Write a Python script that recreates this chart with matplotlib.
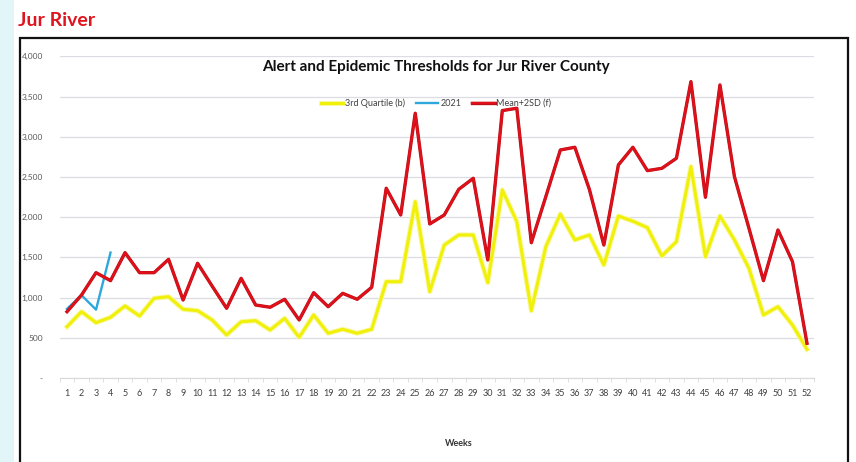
import matplotlib.pyplot as plt
import matplotlib.patheffects as pe
from matplotlib.patches import Rectangle
import numpy as np

# Dados (semanas 1 a 52)
weeks = list(range(1, 53))
q3_values = [638, 825, 688, 755, 896, 771, 991, 1011, 855, 837,
             722, 535, 700, 713, 597, 742, 506, 784, 556, 606,
             556, 606, 1198, 1198, 2193, 1074, 1654, 1779, 1779, 1186,
             2339, 1945, 837, 1633, 2040, 1717, 1779, 1406, 2015, 1950,
             1870, 1518, 1696, 2629, 1509, 2015, 1717, 1364, 784, 887,
             659, 357]
mean2sd_values = [825, 1032, 1310, 1211, 1559, 1310, 1310, 1476, 970, 1427,
                  1144, 867, 1240, 908, 880, 979, 722, 1061, 887, 1053,
                  979, 1128, 2360, 2028, 3293, 1916, 2028, 2347, 2484, 1468,
                  3326, 3355, 1683, 2256, 2836, 2870, 2347, 1654, 2650, 2870,
                  2579, 2608, 2733, 3686, 2248, 3645, 2504, 1862, 1211, 1841,
                  1447, 432]
weeks_2021 = [1, 2, 3, 4]
cases_2021 = [860, 1030, 850, 1560]

y_ticks = [0, 500, 1000, 1500, 2000, 2500, 3000, 3500, 4000]
y_tick_labels = ['-', '500', '1,000', '1,500', '2,000', '2,500', '3,000', '3,500', '4,000']

W, H = 856, 462
plt.rcParams['font.family'] = ['Lato', 'DejaVu Sans']

fig = plt.figure(figsize=(W / 100, H / 100), dpi=100)

# Faixa azul clara na esquerda e moldura preta do grafico
fig.patches.append(Rectangle((0, 0), 14 / W, 1, transform=fig.transFigure,
                             facecolor='#e2f5f9', edgecolor='none', zorder=0))
fig.patches.append(Rectangle((20 / W, -0.1), 828 / W, 1.1 - 38 / H, transform=fig.transFigure,
                             fill=False, edgecolor='#111111', lw=1.6, zorder=1))

fig.text(18 / W, 1 - 20 / H, 'Jur River', color='#e0141e', fontsize=14,
         fontweight='bold', ha='left', va='center')

ax = fig.add_axes([59.75 / W, 84 / H, 754.5 / W, 321.6 / H])

ax.plot(weeks, q3_values, color='#f0f00a', lw=2.2, label='3rd Quartile (b)',
        path_effects=[pe.Stroke(linewidth=3.6, foreground='#f9f9a6'), pe.Normal()])
ax.plot(weeks_2021, cases_2021, color='#2ea8dc', lw=1.7, label='2021')
ax.plot(weeks, mean2sd_values, color='#e0101a', lw=1.7, label='Mean+2SD (f)',
        path_effects=[pe.Stroke(linewidth=2.4, foreground='#b81018'), pe.Normal()])

ax.set_xlim(0.5, 52.5)
ax.set_ylim(0, 4000)
ax.set_yticks(y_ticks)
ax.set_yticklabels(y_tick_labels)
ax.set_xticks(weeks)
ax.set_xticklabels([str(w) for w in weeks])
ax.set_xticks(np.arange(0.5, 53, 1), minor=True)

ax.yaxis.grid(True, color='#dcdce4', lw=0.9)
ax.set_axisbelow(True)
for side in ['top', 'right', 'left']:
    ax.spines[side].set_visible(False)
ax.spines['bottom'].set_color('#d9d9d9')

ax.tick_params(axis='y', length=0, pad=12, labelsize=6, labelcolor='#595959')
ax.tick_params(axis='x', which='major', length=0, pad=8, labelsize=6.5, labelcolor='#404040')
ax.tick_params(axis='x', which='minor', length=3, color='#d9d9d9')

# Titulo, legenda e rotulo do eixo x
fig.text(436 / W, 1 - 67 / H, 'Alert and Epidemic Thresholds for Jur River County',
         fontsize=11, fontweight='bold', ha='center', va='center', color='#111111')
ax.legend(loc='center', bbox_to_anchor=(436 / W, 1 - 103 / H), bbox_transform=fig.transFigure,
          ncol=3, frameon=False, fontsize=6.5, handlelength=2.5, columnspacing=1.2,
          handletextpad=0.2, labelcolor='#404040')
fig.text(459 / W, 1 - 443 / H, 'Weeks', fontsize=6.5, fontweight='bold',
         ha='center', va='center', color='#333333')

fig.savefig('out.png', dpi=100)
